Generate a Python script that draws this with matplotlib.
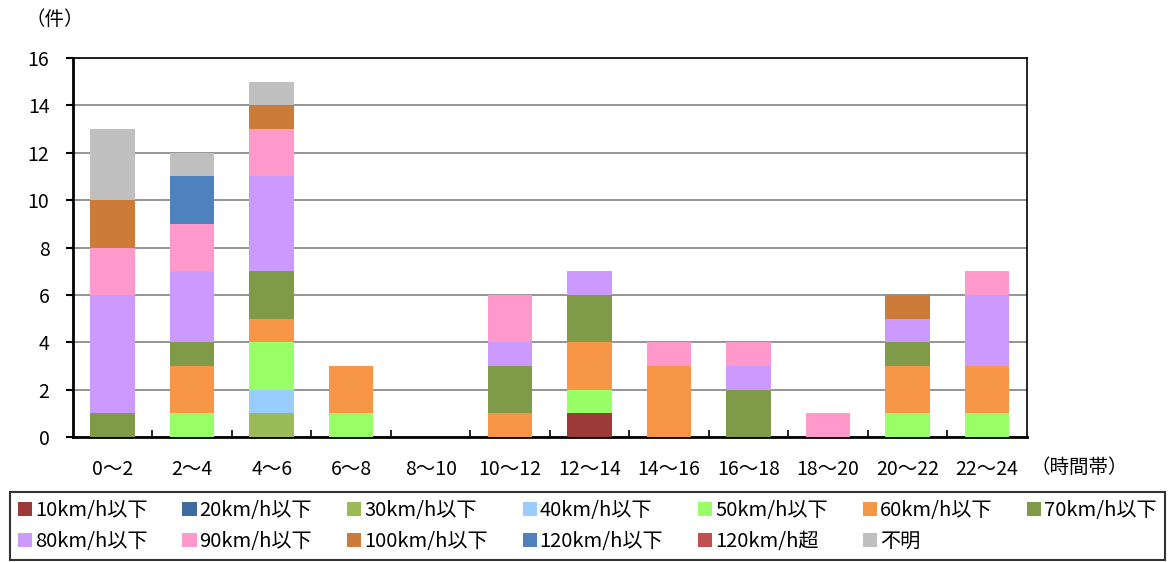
import matplotlib.pyplot as plt
import numpy as np

plt.rcParams['font.family'] = ['Noto Sans CJK JP', 'DejaVu Sans']

# time bands
categories = ['0〜2', '2〜4', '4〜6', '6〜8', '8〜10', '10〜12',
              '12〜14', '14〜16', '16〜18', '18〜20', '20〜22', '22〜24']

series_names = ['10km/h以下', '20km/h以下', '30km/h以下', '40km/h以下',
                '50km/h以下', '60km/h以下', '70km/h以下', '80km/h以下',
                '90km/h以下', '100km/h以下', '120km/h以下', '120km/h超', '不明']

# counts per speed class, one value per time band
v10 = [0, 0, 0, 0, 0, 0, 1, 0, 0, 0, 0, 0]
v20 = [0, 0, 0, 0, 0, 0, 0, 0, 0, 0, 0, 0]
v30 = [0, 0, 1, 0, 0, 0, 0, 0, 0, 0, 0, 0]
v40 = [0, 0, 1, 0, 0, 0, 0, 0, 0, 0, 0, 0]
v50 = [0, 1, 2, 1, 0, 0, 1, 0, 0, 0, 1, 1]
v60 = [0, 2, 1, 2, 0, 1, 2, 3, 0, 0, 2, 2]
v70 = [1, 1, 2, 0, 0, 2, 2, 0, 2, 0, 1, 0]
v80 = [5, 3, 4, 0, 0, 1, 1, 0, 1, 0, 1, 3]
v90 = [2, 2, 2, 0, 0, 2, 0, 1, 1, 1, 0, 1]
v100 = [2, 0, 1, 0, 0, 0, 0, 0, 0, 0, 1, 0]
v120 = [0, 2, 0, 0, 0, 0, 0, 0, 0, 0, 0, 0]
v120over = [0, 0, 0, 0, 0, 0, 0, 0, 0, 0, 0, 0]
unknown = [3, 1, 1, 0, 0, 0, 0, 0, 0, 0, 0, 0]

series = [v10, v20, v30, v40, v50, v60, v70, v80, v90, v100, v120, v120over, unknown]
colors = ['#9B3A38', '#3F6B9E', '#9BBB59', '#99CCFF', '#99FF66', '#F79646',
          '#7F9A48', '#CC99FF', '#FF99CC', '#CD7B38', '#4F81BD', '#C0504D', '#C0C0C0']

fig = plt.figure(figsize=(11.72, 5.62), dpi=100)
ax = fig.add_axes([0.0623, 0.2224, 0.8137, 0.6744])

x = np.arange(len(categories))
bottom = np.zeros(len(categories))
handles = []
for name, vals, c in zip(series_names, series, colors):
    vals = np.array(vals, dtype=float)
    b = ax.bar(x, vals, 0.56, bottom=bottom, color=c, label=name, zorder=3)
    handles.append(b)
    bottom += vals

ax.set_xlim(-0.5, len(categories) - 0.5)
ax.set_ylim(0, 16)
ax.set_yticks(np.arange(0, 17, 2))
ax.yaxis.grid(True, color='#8C8C8C', linewidth=1.3, zorder=0)
ax.tick_params(axis='y', direction='out', length=5, width=1.5, labelsize=14, pad=12)

# category labels at centres, tick marks at boundaries
ax.set_xticks(x)
ax.set_xticklabels(categories, fontsize=14)
ax.tick_params(axis='x', length=0, pad=16)
ax.set_xticks(np.arange(0.5, len(categories) - 0.5, 1), minor=True)
ax.tick_params(axis='x', which='minor', direction='in', length=5, width=1.2)

for side in ['left', 'bottom']:
    ax.spines[side].set_linewidth(2)
for side in ['top', 'right']:
    ax.spines[side].set_linewidth(1.2)

fig.text(0.022, 0.965, '（件）', fontsize=14, va='center')
fig.text(0.879, 0.168, '（時間帯）', fontsize=14, va='center')

# legend filled row by row
order = [0, 7, 1, 8, 2, 9, 3, 10, 4, 11, 5, 12, 6]
leg = fig.legend(handles=[handles[i] for i in order],
                 labels=[series_names[i] for i in order], loc='lower left',
                 bbox_to_anchor=(0.0085, 0.004, 0.9855, 0.121), mode='expand',
                 ncol=7, fontsize=14.5, frameon=True, fancybox=False,
                 edgecolor='black', handlelength=0.7, handleheight=0.7,
                 handletextpad=0.15, columnspacing=0.4, borderaxespad=0,
                 labelspacing=0.5, borderpad=0.4)
leg.get_frame().set_linewidth(1.5)

fig.savefig('out.png', dpi=100)
